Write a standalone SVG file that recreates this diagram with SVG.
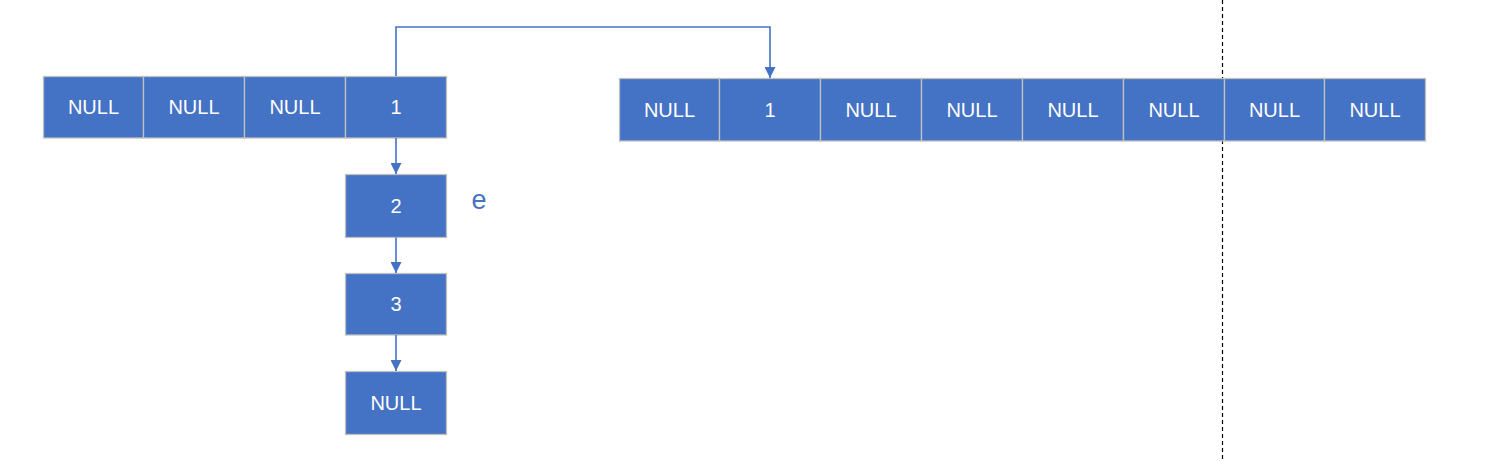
<svg xmlns="http://www.w3.org/2000/svg" width="1491" height="461" viewBox="0 0 1491 461">
<style>
.c{fill:#4472C4;stroke:#C0C0C0;stroke-width:1.3}
.t{fill:#FFFFFF;font-family:"Liberation Sans",Arial,sans-serif;font-size:20px;text-anchor:middle}
.l{fill:none;stroke:#4472C4;stroke-width:1.6}
</style>
<defs>
<marker id="a" viewBox="0 0 10 10" refX="10" refY="5" markerWidth="11" markerHeight="11" markerUnits="userSpaceOnUse" orient="auto">
<path d="M0,0 L10,5 L0,10 Z" fill="#4472C4"/>
</marker>
</defs>
<rect width="1491" height="461" fill="#FFFFFF"/>
<g id="divider">
<path d="M1222.5,0 V461" stroke="#000000" stroke-width="1.2" stroke-dasharray="4,3" fill="none"/>
</g>
<g id="left-array">
<rect class="c" x="43.5" y="76.5" width="100" height="61.5"/><text class="t" x="93.5" y="114">NULL</text>
<rect class="c" x="143.5" y="76.5" width="101" height="61.5"/><text class="t" x="194" y="114">NULL</text>
<rect class="c" x="244.5" y="76.5" width="101" height="61.5"/><text class="t" x="295" y="114">NULL</text>
<rect class="c" x="345.5" y="76.5" width="101" height="61.5"/><text class="t" x="396" y="114">1</text>
</g>
<g id="node-2"><rect class="c" x="345.5" y="174.5" width="101" height="63"/><text class="t" x="396" y="213">2</text></g>
<g id="node-3"><rect class="c" x="345.5" y="273.5" width="101" height="61.5"/><text class="t" x="396" y="311">3</text></g>
<g id="node-null"><rect class="c" x="345.5" y="371.5" width="101" height="63"/><text class="t" x="396" y="410">NULL</text></g>
<g id="label-e"><text x="479" y="209" font-family="'Liberation Sans',Arial,sans-serif" font-size="27" fill="#4472C4" text-anchor="middle">e</text></g>
<g id="right-array">
<rect class="c" x="619.5" y="78.5" width="100" height="62.5"/><text class="t" x="669.5" y="117">NULL</text>
<rect class="c" x="719.5" y="78.5" width="101" height="62.5"/><text class="t" x="770" y="117">1</text>
<rect class="c" x="820.5" y="78.5" width="101" height="62.5"/><text class="t" x="871" y="117">NULL</text>
<rect class="c" x="921.5" y="78.5" width="101" height="62.5"/><text class="t" x="972" y="117">NULL</text>
<rect class="c" x="1022.5" y="78.5" width="101" height="62.5"/><text class="t" x="1073" y="117">NULL</text>
<rect class="c" x="1123.5" y="78.5" width="101" height="62.5"/><text class="t" x="1174" y="117">NULL</text>
<rect class="c" x="1224.5" y="78.5" width="100" height="62.5"/><text class="t" x="1274.5" y="117">NULL</text>
<rect class="c" x="1324.5" y="78.5" width="101" height="62.5"/><text class="t" x="1375" y="117">NULL</text>
</g>
<g id="connectors">
<path class="l" d="M396,76 V27 H770 V78" marker-end="url(#a)"/>
<path class="l" d="M396,138 V174" marker-end="url(#a)"/>
<path class="l" d="M396,237.5 V273" marker-end="url(#a)"/>
<path class="l" d="M396,335 V371" marker-end="url(#a)"/>
</g>
</svg>
